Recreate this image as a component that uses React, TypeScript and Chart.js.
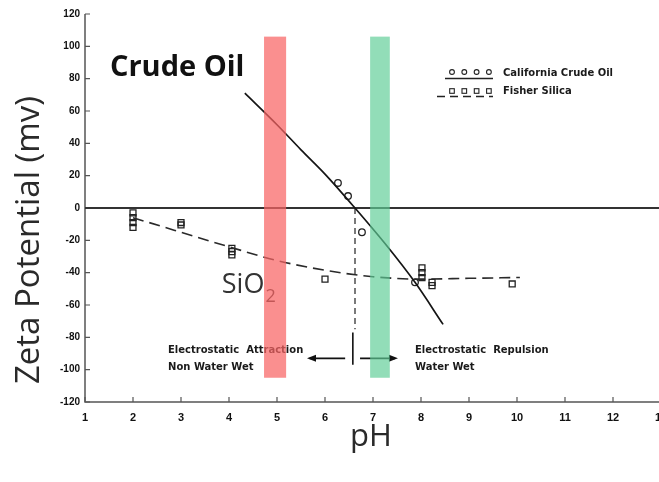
import React, { useEffect, useRef } from "react";
import { Chart, registerables } from "chart.js";

Chart.register(...registerables);

// Fitted trend through the crude oil measurements
const crudeOilCurvePH = [4.33, 5.0, 5.5, 6.0, 6.625, 7.25, 7.875, 8.46];
const crudeOilCurveZeta = [71, 51.5, 36, 21, 0, -22, -46, -72];

// Fitted trend through the silica measurements
const silicaCurvePH = [2.0, 3.0, 4.0, 5.0, 6.0, 7.0, 8.0, 9.0, 10.06];
const silicaCurveZeta = [-6, -15, -24, -32.5, -38.5, -42.5, -44, -43.5, -43];

// Measured points
const crudeOilPointPH = [6.27, 6.48, 6.77, 7.875];
const crudeOilPointZeta = [15.5, 7.4, -15, -46];
const silicaPointPH = [2, 2, 2, 2, 3, 3, 4.06, 4.06, 4.06, 6.0, 8.02, 8.02, 8.02, 8.23, 8.23, 9.9];
const silicaPointZeta = [-3, -6, -9, -12, -9, -10.5, -25, -27, -29, -44, -37, -40, -43, -46, -48, -47];

// Isoelectric point of the crude oil and the dashed drop below it
const isoelectricPH = 6.625;
const isoelectricDrop = [0, -75];

// Highlight bands (pH ranges) and their vertical extent
const redBandPH = [4.73, 5.19];
const greenBandPH = [6.94, 7.35];
const bandZeta = [-105, 106];

// Axis ticks
const xTickValues = [1, 2, 3, 4, 5, 6, 7, 8, 9, 10, 11, 12, 13];
const yTickValues = [-120, -100, -80, -60, -40, -20, 0, 20, 40, 60, 80, 100, 120];

const legendLabels = ["California Crude Oil", "Fisher Silica"];

const toXY = (xs: number[], ys: number[]) => xs.map((v, i) => ({ x: v, y: ys[i] }));

const overlay = {
  id: "overlay",
  beforeDatasetsDraw(chart: any) {
    const { ctx, chartArea: a, scales } = chart;
    const y = scales.y;
    const x = scales.x;
    ctx.save();
    // axis lines
    ctx.strokeStyle = "#555";
    ctx.lineWidth = 1.5;
    ctx.beginPath();
    ctx.moveTo(a.left, a.top);
    ctx.lineTo(a.left, a.bottom);
    ctx.lineTo(a.right, a.bottom);
    ctx.stroke();
    // inner tick marks
    ctx.lineWidth = 1.2;
    ctx.beginPath();
    yTickValues.forEach((v) => {
      const py = y.getPixelForValue(v);
      ctx.moveTo(a.left, py);
      ctx.lineTo(a.left + 5, py);
    });
    xTickValues.forEach((v) => {
      const px = x.getPixelForValue(v);
      ctx.moveTo(px, a.bottom);
      ctx.lineTo(px, a.bottom - 5);
    });
    ctx.stroke();
    // zero line
    ctx.strokeStyle = "#333";
    ctx.lineWidth = 1.8;
    ctx.beginPath();
    ctx.moveTo(a.left, y.getPixelForValue(0));
    ctx.lineTo(chart.width, y.getPixelForValue(0));
    ctx.stroke();
    ctx.restore();
  },
  afterDatasetsDraw(chart: any) {
    const { ctx, scales } = chart;
    const px = (v: number) => scales.x.getPixelForValue(v);
    const py = (v: number) => scales.y.getPixelForValue(v);
    ctx.save();

    // axis titles
    ctx.fillStyle = "#2a2a2a";
    ctx.font = "33px 'Open Sans'";
    ctx.textAlign = "center";
    ctx.textBaseline = "middle";
    ctx.save();
    ctx.translate(30, 240);
    ctx.rotate(-Math.PI / 2);
    ctx.fillText("Zeta Potential (mv)", 0, 0);
    ctx.restore();
    ctx.font = "31px 'Open Sans'";
    ctx.fillText("pH", 371, 437);

    // series captions
    ctx.fillStyle = "#111";
    ctx.font = "bold 29px 'Open Sans'";
    ctx.textAlign = "left";
    ctx.fillText("Crude Oil", px(1.52), py(87));
    ctx.fillStyle = "#333";
    ctx.font = "27px 'Open Sans'";
    ctx.fillText("SiO", px(3.85), py(-48));
    const sioW = ctx.measureText("SiO").width;
    ctx.font = "18px 'Open Sans'";
    ctx.fillText("2", px(3.85) + sioW + 1, py(-48) + 11);

    // wettability annotations
    ctx.fillStyle = "#1a1a1a";
    ctx.font = "bold 10px 'DejaVu Sans'";
    ctx.fillText("Electrostatic  Attraction", px(2.73), py(-88));
    ctx.fillText("Non Water Wet", px(2.73), py(-98.5));
    ctx.fillText("Electrostatic  Repulsion", px(7.875), py(-88));
    ctx.fillText("Water Wet", px(7.875), py(-98.5));

    // arrows and divider
    ctx.strokeStyle = "#111";
    ctx.fillStyle = "#111";
    ctx.lineWidth = 1.6;
    const ay = py(-93);
    ctx.beginPath();
    ctx.moveTo(px(6.58), py(-77));
    ctx.lineTo(px(6.58), py(-97));
    ctx.moveTo(px(6.42), ay);
    ctx.lineTo(px(5.68), ay);
    ctx.moveTo(px(6.73), ay);
    ctx.lineTo(px(7.46), ay);
    ctx.stroke();
    const head = (tip: number, dir: number) => {
      ctx.beginPath();
      ctx.moveTo(tip, ay);
      ctx.lineTo(tip - dir * 9, ay - 3.5);
      ctx.lineTo(tip - dir * 9, ay + 3.5);
      ctx.closePath();
      ctx.fill();
    };
    head(px(5.625), -1);
    head(px(7.52), 1);

    // legend
    const lx = 452;
    const step = 12.3;
    ctx.strokeStyle = "#222";
    ctx.lineWidth = 1.1;
    for (let i = 0; i < 4; i++) {
      ctx.beginPath();
      ctx.arc(lx + i * step, 72, 2.4, 0, Math.PI * 2);
      ctx.stroke();
      ctx.strokeRect(lx + i * step - 2.3, 88.7, 4.6, 4.6);
    }
    ctx.lineWidth = 1.4;
    ctx.beginPath();
    ctx.moveTo(445, 78.5);
    ctx.lineTo(493, 78.5);
    ctx.stroke();
    ctx.setLineDash([8, 5]);
    ctx.beginPath();
    ctx.moveTo(437, 96.5);
    ctx.lineTo(493, 96.5);
    ctx.stroke();
    ctx.setLineDash([]);
    ctx.fillStyle = "#1a1a1a";
    ctx.font = "bold 10px 'DejaVu Sans'";
    ctx.textAlign = "left";
    ctx.fillText(legendLabels[0], 503, 73);
    ctx.fillText(legendLabels[1], 503, 91);

    // translucent highlight bands laid over everything
    const band = (r: number[], color: string) => {
      ctx.fillStyle = color;
      const x0 = px(r[0]);
      const x1 = px(r[1]);
      const y0 = py(bandZeta[1]);
      const y1 = py(bandZeta[0]);
      ctx.fillRect(x0, y0, x1 - x0, y1 - y0);
    };
    band(redBandPH, "rgba(248, 100, 100, 0.72)");
    band(greenBandPH, "rgba(95, 205, 150, 0.68)");

    ctx.restore();
  },
};

export default function App() {
  const ref = useRef<HTMLCanvasElement>(null);

  useEffect(() => {
    const canvas = ref.current;
    if (!canvas) return;
    const tickFont = { family: "'Liberation Sans'", weight: "bold" as const };
    const chart = new Chart(canvas, {
      type: "scatter",
      data: {
        datasets: [
          {
            label: "California Crude Oil trend",
            data: toXY(crudeOilCurvePH, crudeOilCurveZeta),
            showLine: true,
            borderColor: "#151515",
            borderWidth: 1.7,
            pointRadius: 0,
            cubicInterpolationMode: "monotone",
          },
          {
            label: "Fisher Silica trend",
            data: toXY(silicaCurvePH, silicaCurveZeta),
            showLine: true,
            borderColor: "#2a2a2a",
            borderWidth: 1.6,
            borderDash: [11, 6],
            pointRadius: 0,
            cubicInterpolationMode: "monotone",
          },
          {
            label: "Isoelectric point",
            data: toXY([isoelectricPH, isoelectricPH], isoelectricDrop),
            showLine: true,
            borderColor: "#333",
            borderWidth: 1.3,
            borderDash: [6, 4],
            pointRadius: 0,
          },
          {
            label: legendLabels[0],
            data: toXY(crudeOilPointPH, crudeOilPointZeta),
            pointStyle: "circle",
            pointRadius: 3.3,
            borderColor: "#222",
            borderWidth: 1.3,
            backgroundColor: "rgba(255,255,255,0)",
          },
          {
            label: legendLabels[1],
            data: toXY(silicaPointPH, silicaPointZeta),
            pointStyle: "rect",
            pointRadius: 4.2,
            borderColor: "#222",
            borderWidth: 1.3,
            backgroundColor: "rgba(255,255,255,0)",
          },
        ],
      },
      options: {
        responsive: false,
        animation: false,
        devicePixelRatio: 1,
        layout: { padding: { top: 14, right: 19, left: 0, bottom: 0 } },
        plugins: { legend: { display: false }, tooltip: { enabled: false } },
        scales: {
          x: {
            type: "linear",
            min: 1,
            max: 13,
            afterFit: (s: any) => {
              s.height = 80;
              s.paddingLeft = 0;
              s.paddingRight = 0;
            },
            afterBuildTicks: (s: any) => {
              s.ticks = xTickValues.map((v) => ({ value: v }));
            },
            grid: { display: false, drawTicks: false },
            border: { display: false },
            ticks: { padding: 9, color: "#111", font: { ...tickFont, size: 11 }, maxRotation: 0, autoSkip: false },
          },
          y: {
            type: "linear",
            min: -120,
            max: 120,
            afterFit: (s: any) => {
              s.width = 85;
              s.paddingTop = 0;
              s.paddingBottom = 0;
            },
            afterBuildTicks: (s: any) => {
              s.ticks = yTickValues.map((v) => ({ value: v }));
            },
            grid: { display: false, drawTicks: false },
            border: { display: false },
            ticks: { padding: 5, color: "#111", font: { ...tickFont, size: 10 } },
          },
        },
      },
      plugins: [overlay],
    });
    return () => chart.destroy();
  }, []);

  return (
    <div
      style={{
        position: "absolute",
        left: 0,
        top: 0,
        width: 659,
        height: 482,
        overflow: "hidden",
        background: "#fff",
      }}
    >
      <canvas ref={ref} width={680} height={482} style={{ display: "block" }} />
    </div>
  );
}
